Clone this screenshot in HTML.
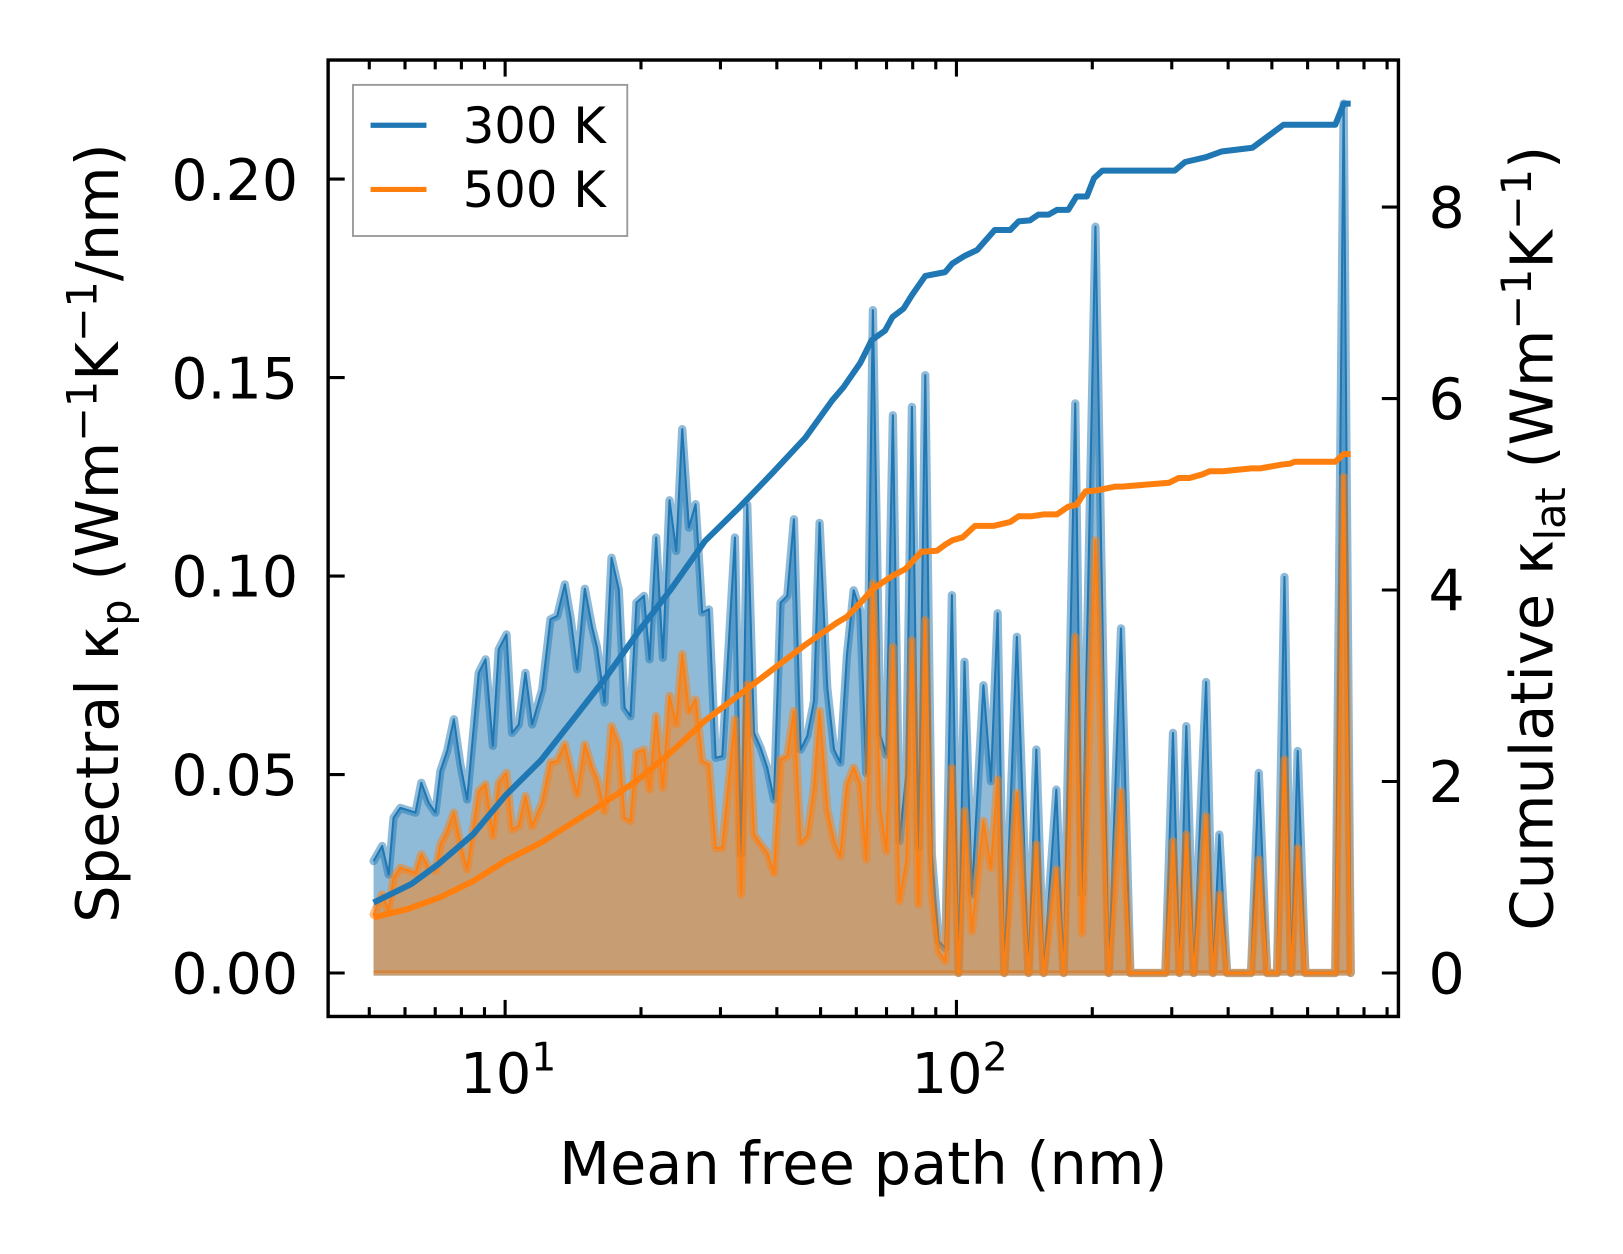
<!DOCTYPE html>
<html>
<head>
<meta charset="utf-8">
<style>
  html,body{margin:0;padding:0;background:#fff;}
  svg{display:block;}
  text{font-family:"DejaVu Sans","Liberation Sans",sans-serif;fill:#000;}
</style>
</head>
<body>
<svg id="chart" width="1623" height="1254" viewBox="0 0 1623 1254" xmlns="http://www.w3.org/2000/svg">
  <rect x="0" y="0" width="1623" height="1254" fill="#fff"/>
  <g transform="scale(1.0351)">
  <g id="spectral"></g>
  <g id="cumulative"></g>
  <g id="axes"></g>
  <rect x="317" y="58" width="1034" height="924" fill="none" stroke="#000" stroke-width="3.3"/>
  <g>
    <rect x="341" y="82" width="265" height="146" fill="#fff" stroke="#999" stroke-width="1.8"/>
    <line x1="358" y1="121" x2="412" y2="121" stroke="#1f77b4" stroke-width="5"/>
    <text x="447" y="138" font-size="48">300 K</text>
    <line x1="358" y1="183" x2="412" y2="183" stroke="#ff7f0e" stroke-width="5"/>
    <text x="447" y="200" font-size="48">500 K</text>
  </g>
  <text x="834" y="1144" font-size="57" text-anchor="middle">Mean free path (nm)</text>
  <text transform="translate(114,515) rotate(-90)" font-size="57" text-anchor="middle">Spectral κ<tspan font-size="40" dy="12">p</tspan><tspan dy="-12"> (Wm</tspan><tspan font-size="40" dy="-21">−1</tspan><tspan dy="21">K</tspan><tspan font-size="40" dy="-21">−1</tspan><tspan dy="21">/nm)</tspan></text>
  <text transform="translate(1500,520) rotate(-90)" font-size="57" text-anchor="middle">Cumulative κ<tspan font-size="40" dy="12">lat</tspan><tspan dy="-12"> (Wm</tspan><tspan font-size="40" dy="-21">−1</tspan><tspan dy="21">K</tspan><tspan font-size="40" dy="-21">−1</tspan><tspan dy="21">)</tspan></text>
  </g>
</svg>
<script>
// ---- data ----
const mfp = [5.11,5.34,5.52,5.66,5.86,6.33,6.52,6.77,7.01,7.19,7.44,7.70,7.96,8.24,8.74,9.05,9.39,9.68,10.07,10.36,10.72,11.09,11.48,12.08,12.60,13.04,13.56,13.96,14.44,15.02,15.59,15.99,16.60,17.21,17.86,18.39,18.96,19.55,20.30,20.89,21.61,22.36,23.13,23.94,24.69,25.53,26.42,27.34,28.29,29.27,30.28,32.29,33.36,34.40,35.59,36.81,38.09,39.41,40.77,42.19,43.65,45.16,46.72,48.34,49.76,51.74,53.54,
  55.3,57.2,59.2,61.2,63.1,65.3,67.8,69.9,72.3,74.8,77.4,79.7,82.4,85.3,88.2,91.3,94.5,97.7,101.1,104.2,108.2,114.8,119.2,123.4,127.6,136.1,144.5,150.3,156.1,166.5,172.8,183.4,189.8,203.2,217.5,231.6,242.9,290.3,301.9,312.3,323.2,335.5,357.4,370.4,382.5,397.8,449.6,467.6,488.0,513.5,533.1,551.4,570.5,593.3,690.8,721.0,747.7];
const spectral300 = [0.0282,0.0320,0.0248,0.0391,0.0416,0.0404,0.0479,0.0429,0.0404,0.0509,0.0559,0.0639,0.0525,0.0437,0.0756,0.0790,0.0572,0.0815,0.0853,0.0605,0.0626,0.0756,0.0626,0.0714,0.0891,0.0899,0.0979,0.0895,0.0765,0.0968,0.0870,0.0819,0.0681,0.1046,0.0966,0.0668,0.0647,0.0933,0.0950,0.0790,0.1097,0.0794,0.1191,0.1063,0.1370,0.1122,0.1181,0.0908,0.0916,0.0542,0.0546,0.1097,0.0300,0.1180,0.0605,0.0567,0.0517,0.0437,0.0933,0.0950,0.1143,0.0563,0.0597,0.0685,0.1134,0.0719,0.0563,
  0.0530,0.0800,0.0964,0.0914,0.0504,0.1670,0.0600,0.0550,0.1405,0.0332,0.0500,0.1426,0.0315,0.1506,0.0300,0.0080,0.0063,0.0952,0.0,0.0784,0.0198,0.0725,0.0483,0.0906,0.0,0.0847,0.0,0.0563,0.0,0.0462,0.0,0.1435,0.0200,0.1880,0.0,0.0868,0.0,0.0,0.0605,0.0,0.0622,0.0,0.0733,0.0,0.0349,0.0,0.0,0.0504,0.0,0.0,0.0998,0.0,0.0559,0.0,0.0,0.2190,0.0];
const spectral500 = [0.0147,0.0198,0.0156,0.0240,0.0265,0.0252,0.0299,0.0265,0.0257,0.0324,0.0357,0.0404,0.0324,0.0261,0.0458,0.0475,0.0345,0.0479,0.0504,0.0362,0.0370,0.0446,0.0370,0.0429,0.0530,0.0534,0.0576,0.0517,0.0450,0.0576,0.0517,0.0488,0.0408,0.0622,0.0576,0.0391,0.0383,0.0555,0.0563,0.0462,0.0647,0.0467,0.0698,0.0626,0.0803,0.0660,0.0689,0.0534,0.0525,0.0315,0.0315,0.0639,0.0198,0.0727,0.0349,0.0324,0.0303,0.0252,0.0538,0.0546,0.0660,0.0328,0.0345,0.0467,0.0660,0.0412,0.0332,
  0.0294,0.0475,0.0517,0.0475,0.0286,0.0981,0.0416,0.0307,0.0821,0.0181,0.0282,0.0838,0.0173,0.0889,0.0200,0.0055,0.0030,0.0517,0.0,0.0408,0.0105,0.0383,0.0265,0.0488,0.0,0.0454,0.0,0.0324,0.0,0.0261,0.0,0.0847,0.0100,0.1090,0.0,0.0458,0.0,0.0,0.0332,0.0,0.0349,0.0,0.0395,0.0,0.0198,0.0,0.0,0.0286,0.0,0.0,0.0538,0.0,0.0315,0.0,0.0,0.1250,0.0];
const cumMfp300 = [5.11,6.2,7.13,8.5,10.0,12.0,14.10,16.8,19.77,23.40,27.71,32.98,39.06,46.26,53.06,56.23,61.2,64.9,69.5,72.1,76.4,79.7,85.3,94.4,97.9,104.3,111.1,121.6,131.6,137.3,145.5,151.8,160.0,167.0,176.9,184.5,194.5,201.8,210.6,228.0,304.7,321.3,357.0,386.6,452.9,477.5,530.7,690.8,721.0,747.7];
const cum300 = [0.735,0.93,1.14,1.45,1.85,2.22,2.64,3.10,3.57,4.02,4.51,4.86,5.22,5.59,5.98,6.12,6.37,6.61,6.71,6.85,6.94,7.08,7.28,7.32,7.41,7.49,7.55,7.76,7.76,7.85,7.86,7.92,7.92,7.97,7.97,8.11,8.11,8.30,8.38,8.38,8.38,8.47,8.52,8.58,8.62,8.70,8.86,8.86,9.08,9.08];
const cumMfp500 = [5.11,6.1,7.18,8.5,10.0,12.0,14.0,16.6,19.6,23.5,27.8,32.9,38.9,46.0,54.4,57.2,61.1,65.2,72.3,77.1,83.7,90.5,94.2,98.0,103.2,110.0,121.0,131.5,137.3,146.4,156.5,167.0,176.9,184.5,193.2,204.7,225.1,232.7,295.7,310.5,328.5,351.8,364.0,389.1,450.3,471.4,526.0,549.0,561.6,584.4,690.8,721.0,747.7];
const cum500 = [0.58,0.67,0.79,0.96,1.17,1.36,1.56,1.78,2.01,2.32,2.64,2.90,3.16,3.42,3.66,3.72,3.86,4.01,4.15,4.22,4.40,4.41,4.47,4.52,4.55,4.67,4.67,4.71,4.77,4.77,4.79,4.79,4.87,4.89,5.03,5.04,5.08,5.08,5.12,5.17,5.17,5.21,5.24,5.24,5.27,5.27,5.31,5.32,5.34,5.34,5.34,5.42,5.42];
const leftTicks = [0.00,0.05,0.10,0.15,0.20];
const leftTickLabels = ["0.00","0.05","0.10","0.15","0.20"];
const rightTicks = [0,2,4,6,8];
const xMajorTicks = [10,100];
const xMinorTicks = [5,6,7,8,9,20,30,40,50,60,70,80,90,200,300,400,500,600,700,800,900];

// ---- axes ----
const PX0=317, PX1=1351, PY0=58, PY1=982;
const xPx10 = 488, decadePx = 436;
function sx(v){ return xPx10 + (Math.log10(v)-1)*decadePx; }
function syL(v){ return 940 - v*3835; }
function syR(v){ return 940 - v*92.5; }
const NS="http://www.w3.org/2000/svg";
function mk(tag, parent){ const e=document.createElementNS(NS,tag); parent.appendChild(e); return e; }

const spec = document.getElementById('spectral');
function drawSpectral(vals, color, name){
  const pts = mfp.map((m,i)=>sx(m).toFixed(1)+','+syL(vals[i]).toFixed(1));
  const area = mk('polygon', spec);
  
  
  area.setAttribute('points', sx(mfp[0]).toFixed(1)+','+syL(0)+' '+pts.join(' ')+' '+sx(mfp[mfp.length-1]).toFixed(1)+','+syL(0));
  area.setAttribute('fill', color); area.setAttribute('fill-opacity','0.5');
  const halo = mk('polyline', spec);
  
  
  halo.setAttribute('points', pts.join(' '));
  halo.setAttribute('fill','none'); halo.setAttribute('stroke',color); halo.setAttribute('stroke-opacity','0.5');
  halo.setAttribute('stroke-width','8'); halo.setAttribute('stroke-linejoin','round'); halo.setAttribute('stroke-linecap','round');
  const ln = mk('polyline', spec);
  
  
  ln.setAttribute('points', pts.join(' '));
  ln.setAttribute('fill','none'); ln.setAttribute('stroke',color); ln.setAttribute('stroke-width','2');
  ln.setAttribute('stroke-linejoin','round');
  const base = mk('line', spec);
  
  
  base.setAttribute('x1', sx(mfp[0])); base.setAttribute('x2', sx(mfp[mfp.length-1]));
  base.setAttribute('y1', syL(0)); base.setAttribute('y2', syL(0));
  base.setAttribute('stroke', color); base.setAttribute('stroke-opacity','0.5'); base.setAttribute('stroke-width','5');
}
drawSpectral(spectral300, '#1f77b4', 'spectral-300k');
drawSpectral(spectral500, '#ff7f0e', 'spectral-500k');

const cumG = document.getElementById('cumulative');
function drawCum(xs, vals, color, name){
  const l = mk('polyline', cumG);
  
  
  l.setAttribute('points', xs.map((m,i)=>sx(m).toFixed(1)+','+syR(vals[i]).toFixed(1)).join(' '));
  l.setAttribute('fill','none'); l.setAttribute('stroke',color); l.setAttribute('stroke-width','5.8');
  l.setAttribute('stroke-linejoin','round');
}
drawCum(cumMfp300, cum300, '#1f77b4', 'cumulative-300k-line');
drawCum(cumMfp500, cum500, '#ff7f0e', 'cumulative-500k-line');

const ax = document.getElementById('axes');
function tick(x1,y1,x2,y2,name){
  const t = mk('line', ax);
  
  
  t.setAttribute('x1',x1); t.setAttribute('y1',y1); t.setAttribute('x2',x2); t.setAttribute('y2',y2);
  t.setAttribute('stroke','#000'); t.setAttribute('stroke-width','3');
}
leftTicks.forEach((v,i)=>{
  const y = syL(v);
  tick(PX0,y,PX0+16,y,'left-tick');
  const t = mk('text', ax);
  
  
  t.setAttribute('x', 288); t.setAttribute('y', y+20);
  t.setAttribute('text-anchor','end'); t.setAttribute('font-size','55');
  t.textContent = leftTickLabels[i];
});
rightTicks.forEach(v=>{
  const y = syR(v);
  tick(PX1-16,y,PX1,y,'right-tick');
  const t = mk('text', ax);
  
  
  t.setAttribute('x', 1380); t.setAttribute('y', y+20);
  t.setAttribute('font-size','55');
  t.textContent = String(v);
});
xMajorTicks.forEach(v=>{
  const x = sx(v);
  tick(x,PY1,x,PY1-16,'x-major-tick-bottom');
  tick(x,PY0,x,PY0+16,'x-major-tick-top');
  const t = mk('text', ax);
  
  
  t.setAttribute('x', x+3); t.setAttribute('y', 1056);
  t.setAttribute('text-anchor','middle'); t.setAttribute('font-size','54');
  const e = Math.round(Math.log10(v));
  t.innerHTML = '10<tspan font-size="38" dy="-22">'+e+'</tspan>';
});
xMinorTicks.forEach(v=>{
  const x = sx(v);
  if (x < PX0 || x > PX1) return;
  tick(x,PY1,x,PY1-9,'x-minor-tick-bottom');
  tick(x,PY0,x,PY0+9,'x-minor-tick-top');
});
</script>
</body>
</html>
